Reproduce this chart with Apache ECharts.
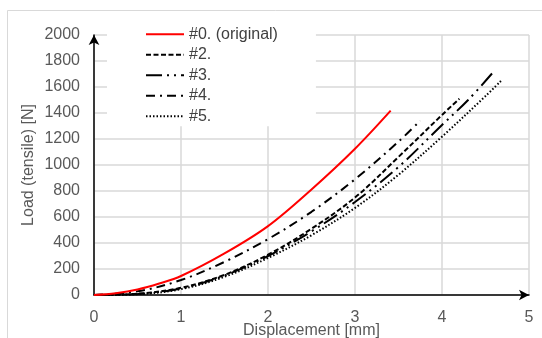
<!DOCTYPE html>
<html>
<head>
<meta charset="utf-8">
<script src="https://cdn.jsdelivr.net/npm/echarts@6/dist/echarts.min.js"></script>
<style>
html,body{margin:0;padding:0;background:#fff;}
#chart{width:542px;height:338px;}
</style>
</head>
<body>
<div id="chart"></div>
<script>
// Series data: [displacement mm, load N]
var seriesNames = ['#0. (original)', '#2.', '#3.', '#4.', '#5.'];
var s0 = [[0,0],[0.25,14],[0.5,42],[0.75,88],[1,146],[1.5,320],[2,530],[2.5,812],[3,1125],[3.41,1418]];
var s2 = [[0,0],[0.5,10],[1,55],[1.5,155],[2,310],[2.5,510],[3,750],[3.5,1062],[4,1385],[4.2,1510]];
var s3 = [[0,0],[0.5,8],[1,50],[1.5,150],[2,300],[2.5,490],[3,715],[3.5,985],[4,1308],[4.3,1500],[4.6,1723]];
var s4 = [[0,0],[0.5,28],[1,115],[1.5,255],[2,430],[2.5,640],[3,890],[3.5,1180],[3.75,1341]];
var s5 = [[0,0],[0.5,6],[1,45],[1.5,140],[2,285],[2.5,460],[3,670],[3.5,925],[4,1218],[4.5,1530],[4.69,1655]];
var xTicks = [0,1,2,3,4,5];
var yTicks = [0,200,400,600,800,1000,1200,1400,1600,1800,2000];

var FONT = 'Liberation Sans, Arial, sans-serif';
var chart = echarts.init(document.getElementById('chart'), null, {renderer:'canvas'});

function mk(name, data, color, dash, z) {
  return {
    name: name, type: 'line', data: data, smooth: 0.35, symbol: 'none', showSymbol: false,
    z: z, lineStyle: {color: color, width: 2, type: dash, cap: 'butt'},
    itemStyle: {color: color}
  };
}

chart.setOption({
  animation: false,
  backgroundColor: '#fff',
  graphic: [{
    type: 'rect', z: -10, silent: true,
    shape: {x: 7.5, y: 10.5, width: 600, height: 400},
    style: {fill: 'none', stroke: '#d9d9d9', lineWidth: 1}
  }],
  grid: {left: 94, right: 13, top: 35, bottom: 43, outerBoundsMode: 'none', containLabel: false},
  legend: {
    orient: 'vertical', left: 107, top: 16.2,
    padding: [10, 38, 2, 38],
    backgroundColor: '#fff',
    itemWidth: 38, itemHeight: 14, itemGap: 4.5,
    itemStyle: {opacity: 0},
    textStyle: {fontFamily: FONT, fontSize: 16, color: '#404040', padding: [0,0,0,0]},
    data: seriesNames
  },
  xAxis: {
    type: 'value', min: xTicks[0], max: xTicks[xTicks.length-1], interval: 1,
    name: 'Displacement [mm]', nameLocation: 'middle', nameGap: 28, nameMoveOverlap: false,
    nameTextStyle: {fontFamily: FONT, fontSize: 16, color: '#595959'},
    axisLine: {show: true, lineStyle: {color: '#000', width: 1.5}, symbol: ['none','arrow'], symbolSize: [8, 10]},
    axisTick: {show: false},
    axisLabel: {fontFamily: FONT, fontSize: 16, color: '#595959', margin: 15},
    splitLine: {show: true, lineStyle: {color: '#d9d9d9', width: 1.5}}
  },
  yAxis: {
    type: 'value', min: yTicks[0], max: yTicks[yTicks.length-1], interval: 200,
    name: 'Load (tensile) [N]', nameLocation: 'middle', nameGap: 57, nameMoveOverlap: false,
    nameTextStyle: {fontFamily: FONT, fontSize: 16, color: '#595959'},
    axisLine: {show: true, lineStyle: {color: '#000', width: 1.5}, symbol: ['none','arrow'], symbolSize: [8, 10]},
    axisTick: {show: false},
    axisLabel: {fontFamily: FONT, fontSize: 16, color: '#595959', margin: 14, formatter: function(v){return String(v);}},
    splitLine: {show: true, lineStyle: {color: '#d9d9d9', width: 1.5}}
  },
  series: [
    mk(seriesNames[0], s0, '#ff0000', 'solid', 6),
    mk(seriesNames[1], s2, '#000', [5, 2.5], 5),
    mk(seriesNames[2], s3, '#000', [16, 5, 2, 5, 2, 5], 4),
    mk(seriesNames[3], s4, '#000', [9, 5, 2, 5], 3),
    mk(seriesNames[4], s5, '#000', [1.5, 2], 2)
  ]
});
</script>
</body>
</html>
